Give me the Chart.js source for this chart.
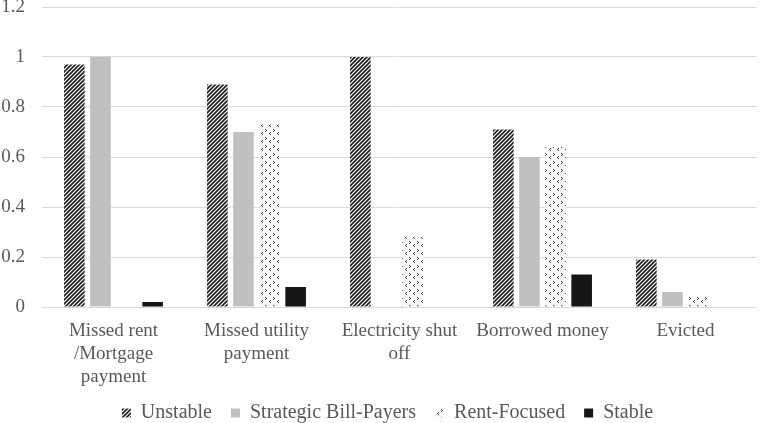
<!DOCTYPE html>
<html>
<head>
<meta charset="utf-8">
<script src="https://cdn.jsdelivr.net/npm/chart.js@4/dist/chart.umd.min.js"></script>
<style>
  html, body { margin: 0; padding: 0; background: #ffffff; }
  #wrap { width: 760px; height: 423px; }
</style>
</head>
<body>
<div id="wrap"><canvas id="chart" width="760" height="423"></canvas></div>
<script>
// données
var categories = [
    ["Missed rent", "/Mortgage", "payment"],
    ["Missed utility", "payment"],
    ["Electricity shut", "off"],
    "Borrowed money",
    "Evicted"
];
var unstable = [0.97, 0.89, 1.0, 0.71, 0.19];
var strategicBillPayers = [1.0, 0.70, 0, 0.60, 0.06];
var rentFocused = [0, 0.73, 0.28, 0.64, 0.04];
var stable = [0.02, 0.08, 0, 0.13, 0];
var yTicks = [0, 0.2, 0.4, 0.6, 0.8, 1, 1.2];

// motif hachuré (Unstable)
function hatchPattern() {
    var c = document.createElement("canvas");
    c.width = 4; c.height = 4;
    var g = c.getContext("2d");
    g.fillStyle = "#ffffff";
    g.fillRect(0, 0, 4, 4);
    g.strokeStyle = "#1a1a1a";
    g.lineWidth = 1.6;
    g.beginPath();
    g.moveTo(-1, 5); g.lineTo(5, -1);
    g.moveTo(-1, 1); g.lineTo(1, -1);
    g.moveTo(3, 5); g.lineTo(5, 3);
    g.stroke();
    return g.createPattern(c, "repeat");
}

// motif pointillé avec chevrons (Rent-Focused)
function chevronPattern() {
    var c = document.createElement("canvas");
    c.width = 8; c.height = 8;
    var g = c.getContext("2d");
    g.fillStyle = "#f7f7f7";
    g.fillRect(0, 0, 8, 8);
    g.fillStyle = "#3a3a3a";
    // ">"
    g.fillRect(1, 1, 1, 1);
    g.fillRect(2, 2, 1, 1);
    g.fillRect(1, 3, 1, 1);
    // "<"
    g.fillRect(6, 4, 1, 1);
    g.fillRect(5, 5, 1, 1);
    g.fillRect(6, 6, 1, 1);
    return g.createPattern(c, "repeat");
}

var font = "'Liberation Serif', 'Times New Roman', serif";
var textColor = "#595959";

// pas de découpage des libellés d'axe
function noClip(axis) {
    axis._computeLabelArea = function () { return undefined; };
}

var ctx = document.getElementById("chart").getContext("2d");
var chart = new Chart(ctx, {
    type: "bar",
    data: {
        labels: categories,
        datasets: [
            { label: "Unstable", data: unstable, backgroundColor: hatchPattern() },
            { label: "Strategic Bill-Payers", data: strategicBillPayers, backgroundColor: "#c0c0c0" },
            { label: "Rent-Focused", data: rentFocused, backgroundColor: chevronPattern() },
            { label: "Stable", data: stable, backgroundColor: "#161616" }
        ]
    },
    options: {
        responsive: false,
        animation: false,
        devicePixelRatio: 1,
        layout: { padding: { top: 0, right: 3, bottom: -10, left: 18 } },
        datasets: {
            bar: { categoryPercentage: 0.73, barPercentage: 0.79 }
        },
        scales: {
            x: {
                grid: { display: false },
                border: { display: false },
                afterFit: function (axis) {
                    axis.height = 87;
                    axis.paddingLeft = 0;
                    axis.paddingRight = 0;
                    noClip(axis);
                },
                ticks: {
                    color: textColor,
                    font: { family: font, size: 19, lineHeight: 1.2 },
                    maxRotation: 0,
                    autoSkip: false,
                    padding: 5
                }
            },
            y: {
                min: 0,
                max: 1.2,
                afterBuildTicks: function (axis) {
                    axis.ticks = yTicks.map(function (v) { return { value: v }; });
                },
                afterFit: function (axis) {
                    axis.width = 24;
                    axis.paddingTop = 7;
                    axis.paddingBottom = 0;
                    noClip(axis);
                },
                grid: { color: "#d9d9d9", lineWidth: 1, drawTicks: false },
                border: { display: false },
                ticks: {
                    color: textColor,
                    font: { family: font, size: 19 },
                    padding: 17,
                    callback: function (v) { return String(v); }
                }
            }
        },
        plugins: {
            tooltip: { enabled: false },
            legend: {
                position: "bottom",
                labels: {
                    color: textColor,
                    font: { family: font, size: 20 },
                    boxWidth: 9,
                    boxHeight: 9,
                    padding: 9,
                    // espaces en fin de libellé pour écarter les entrées
                    generateLabels: function (chart) {
                        var items = Chart.defaults.plugins.legend.labels.generateLabels(chart);
                        items.forEach(function (it, i) {
                            if (i < items.length - 1) it.text = it.text + "  ";
                        });
                        return items;
                    }
                }
            }
        }
    }
});
</script>
</body>
</html>
